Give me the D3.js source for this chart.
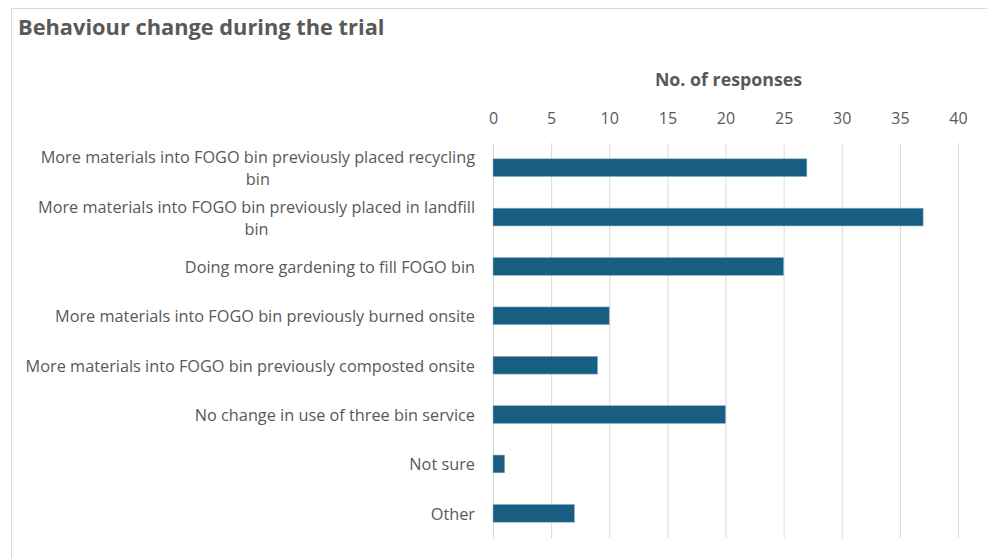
<!DOCTYPE html>
<html>
<head>
<meta charset="utf-8">
<script src="https://cdn.jsdelivr.net/npm/d3@7"></script>
<style>
  body { margin: 0; background: #fff; }
  svg text { font-family: "Segoe UI", "Open Sans", sans-serif; fill: #595959; }
</style>
</head>
<body>
<svg id="chart"></svg>
<script>
// categories (top to bottom), each an array of label lines
const categories = [
    ["More materials into FOGO bin previously placed recycling", "bin"],
    ["More materials into FOGO bin previously placed in landfill", "bin"],
    ["Doing more gardening to fill FOGO bin"],
    ["More materials into FOGO bin previously burned onsite"],
    ["More materials into FOGO bin previously composted onsite"],
    ["No change in use of three bin service"],
    ["Not sure"],
    ["Other"]
];
const responses = [27, 37, 25, 10, 9, 20, 1, 7];
const xTicks = [0, 5, 10, 15, 20, 25, 30, 35, 40];

const width = 987, height = 558;
const margin = {top: 143, right: 29, bottom: 20, left: 493};

const svg = d3.select('#chart')
    .attr('width', width)
    .attr('height', height);

// chart area border
svg.append('rect')
    .attr('x', 11.5).attr('y', 8.5)
    .attr('width', width + 10).attr('height', height + 10)
    .attr('fill', 'none')
    .attr('stroke', '#d9d9d9');

svg.append('text')
    .attr('x', 18).attr('y', 35)
    .style('font-size', '21.8px')
    .style('font-weight', 'bold')
    .text('Behaviour change during the trial');

const innerW = width - margin.left - margin.right;
const innerH = 395;

const chart = svg.append('g')
    .attr('transform', `translate(${margin.left},${margin.top})`);

const xScale = d3.scaleLinear().domain([0, 40]).range([0, innerW]);
const yScale = d3.scaleBand()
    .domain(d3.range(categories.length))
    .range([0, innerH])
    .paddingInner(0.64)
    .paddingOuter(0.32);

// gridlines + tick labels on top
const xAxis = d3.axisTop(xScale)
    .tickValues(xTicks)
    .tickSize(-innerH)
    .tickPadding(19);

chart.append('g')
    .attr('class', 'x-axis')
    .call(xAxis)
    .call(g => g.select('.domain').remove())
    .call(g => g.selectAll('.tick line').attr('stroke', '#d9d9d9'))
    .call(g => g.selectAll('.tick text')
        .style('font-size', '16px')
        .attr('fill', '#595959'));

svg.append('text')
    .attr('x', margin.left + innerW / 2 + 3)
    .attr('y', 86)
    .attr('text-anchor', 'middle')
    .style('font-size', '17.8px')
    .style('font-weight', 'bold')
    .text('No. of responses');

// bars
chart.selectAll('.bar')
    .data(responses)
    .join('rect')
    .attr('class', 'bar')
    .attr('x', xScale(0))
    .attr('y', (d, i) => yScale(i))
    .attr('width', d => xScale(d))
    .attr('height', yScale.bandwidth())
    .attr('fill', '#185e82')
    .attr('stroke', '#8fb3c6')
    .attr('stroke-width', 0.6);

// category labels (wrapped ones centred under the first line)
const lineH = 22;
const labels = chart.selectAll('.cat-label')
    .data(categories)
    .join('text')
    .attr('class', 'cat-label')
    .style('font-size', '16.3px');

labels.each(function(lines, i) {
    const t = d3.select(this);
    const cy = yScale(i) + yScale.bandwidth() / 2;
    const y0 = cy - (lines.length - 1) * lineH / 2 + 6.5;
    const first = t.append('tspan').attr('x', -18).attr('y', y0)
        .attr('text-anchor', 'end').text(lines[0]);
    if (lines.length > 1) {
        // measure first line to centre the others under it
        const w = first.node().getComputedTextLength();
        lines.slice(1).forEach((ln, k) => {
            t.append('tspan')
                .attr('x', -18 - w / 2)
                .attr('y', y0 + (k + 1) * lineH)
                .attr('text-anchor', 'middle')
                .text(ln);
        });
    }
});
</script>
</body>
</html>
